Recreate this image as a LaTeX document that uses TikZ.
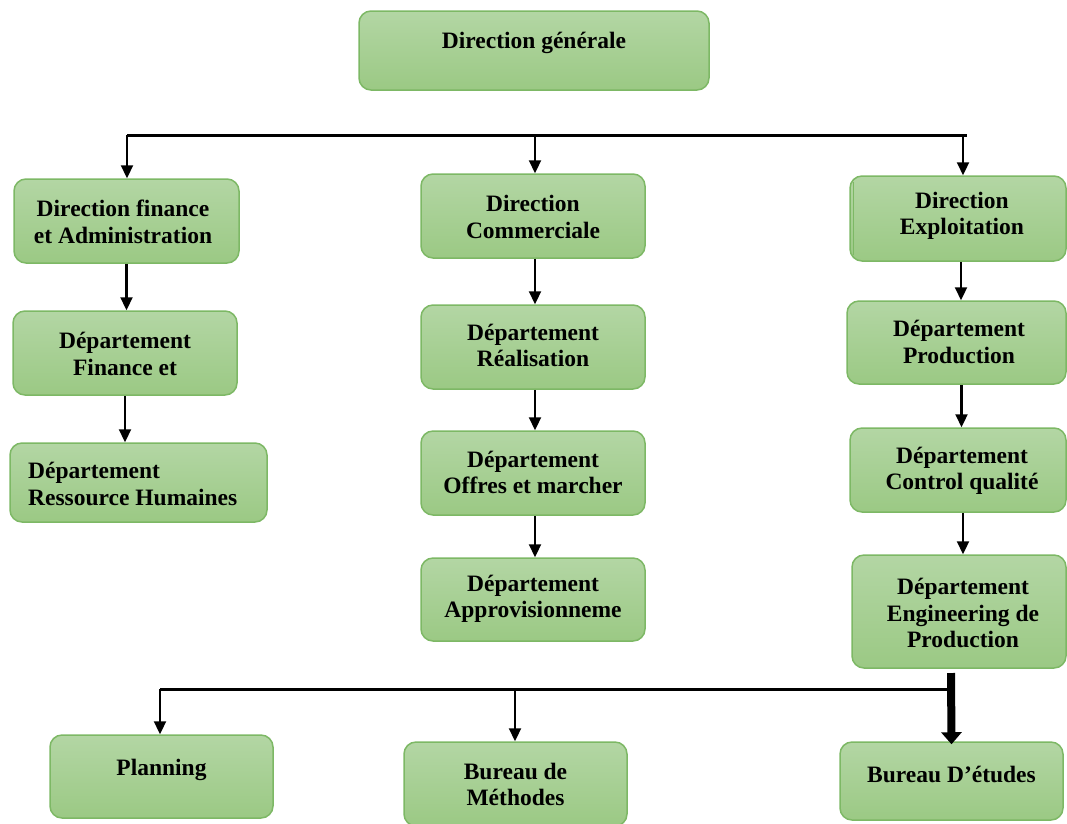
\documentclass[tikz,border=0pt]{standalone}
\usepackage{fontspec}
\setmainfont{Liberation Serif}
\usetikzlibrary{arrows.meta}

\definecolor{boxtop}{HTML}{B3D6A4}
\definecolor{boxbot}{HTML}{9BC984}
\definecolor{boxline}{HTML}{7DB865}

\tikzset{
  box/.style={draw=boxline, line width=1.5pt, rounded corners=12pt,
    top color=boxtop, bottom color=boxbot, inner sep=0pt},
  lbl/.style={font=\fontsize{23.5}{26.5}\selectfont\bfseries, align=center, inner sep=0pt, yshift=-3pt},
  bus/.style={line width=3pt},
  arr/.style={line width=2.2pt, -{Triangle[width=12pt,length=13pt]}},
  bigarr/.style={line width=8pt, -{Triangle[width=20pt,length=12pt]}},
}

\begin{document}
\begin{tikzpicture}[x=1pt,y=-1pt]
\useasboundingbox (0,0) rectangle (1067,823);

% top level
\node[box, minimum width=350pt, minimum height=79pt] (dg) at (534,50.5) {};
\node[lbl] (dgt) at (534,40) {Direction générale};

% directions
\node[box, minimum width=225pt, minimum height=84pt] (dfa) at (126.5,221) {};
\node[lbl] (dfat) at (123,219) {Direction finance\\et Administration};

\node[box, minimum width=224pt, minimum height=84pt] (dc) at (533,216) {};
\node[lbl] (dct) at (533,214) {Direction\\Commerciale};

\node[box, minimum width=216pt, minimum height=85pt] (de) at (958,218.5) {};
\draw[boxline, line width=1.5pt] (853.5,182) -- (853.5,255);
\node[lbl] (det) at (962,213) {Direction\\Exploitation};

% left column
\node[box, minimum width=224pt, minimum height=84pt] (dfin) at (125,353) {};
\node[lbl] (dfint) at (125,351) {Département\\Finance et};

\node[box, minimum width=257pt, minimum height=79pt] (drh) at (138.5,482.5) {};
\node[lbl, align=left, anchor=west] (drht) at (28,481) {Département\\Ressource Humaines};

% middle column
\node[box, minimum width=224pt, minimum height=84pt] (dr) at (533,347) {};
\node[lbl] (drt) at (533,342.5) {Département\\Réalisation};

\node[box, minimum width=224pt, minimum height=84pt] (dom) at (533,473) {};
\node[lbl] (domt) at (533,469.5) {Département\\Offres et marcher};

\node[box, minimum width=224pt, minimum height=83pt] (dap) at (533,599.5) {};
\node[lbl] (dapt) at (533,596) {Département\\Approvisionneme};

% right column
\node[box, minimum width=219pt, minimum height=83pt] (dp) at (956.5,342.5) {};
\node[lbl] (dpt) at (959,339) {Département\\Production};

\node[box, minimum width=216pt, minimum height=84pt] (dcq) at (958,470) {};
\node[lbl] (dcqt) at (962,468) {Département\\Control qualité};

\node[box, minimum width=214pt, minimum height=113pt] (deng) at (959,611.5) {};
\node[lbl] (dengt) at (963,610) {Département\\Engineering de\\Production};

% bottom row
\node[box, minimum width=223pt, minimum height=83pt] (pl) at (161.5,776.5) {};
\node[lbl] (plt) at (161.5,767) {Planning};

\node[box, minimum width=223pt, minimum height=84pt] (bm) at (515.5,784) {};
\node[lbl] (bmt) at (515.5,781.5) {Bureau de\\Méthodes};

\node[box, minimum width=223pt, minimum height=78pt] (bde) at (951.5,781) {};
\node[lbl] (bdet) at (951.5,771) {Bureau D’études};

% upper distribution bus
\coordinate (tL) at (127,135);
\coordinate (tM) at (535,135);
\coordinate (tR) at (963,135);
\coordinate (tE) at (967,135);
\draw[bus] (tL) -- (tE);
\draw[arr] (tL) -- (tL |- dfa.north);
\draw[arr] (tM) -- (tM |- dc.north);
\draw[arr] (tR) -- (tR |- de.north);

% column links
\draw[arr] (dfa.south) -- (dfa.south |- dfin.north);
\draw[arr] (dfin.south) -- (dfin.south |- drh.north);

\draw[arr] ([xshift=2pt]dc.south) -- ([xshift=2pt]dc.south |- dr.north);
\draw[arr] ([xshift=2pt]dr.south) -- ([xshift=2pt]dr.south |- dom.north);
\draw[arr] ([xshift=2pt]dom.south) -- ([xshift=2pt]dom.south |- dap.north);

\draw[arr] ([xshift=3pt]de.south) -- ([xshift=3pt]de.south |- dp.north);
\draw[arr] ([xshift=5pt]dp.south) -- ([xshift=5pt]dp.south |- dcq.north);
\draw[arr] ([xshift=5pt]dcq.south) -- ([xshift=5pt]dcq.south |- deng.north);

% lower distribution bus
\coordinate (bL) at (160,689);
\coordinate (bM) at (515,689);
\coordinate (bR) at (951,689);
\coordinate (bT) at (951,673);
\draw[bus] (bL) -- (bR);
\draw[arr] (bL) -- (bL |- pl.north);
\draw[arr] (bM) -- (bM |- bm.north);
\draw[bigarr] (bT) -- ([yshift=-3pt]bde.north);
\end{tikzpicture}
\end{document}
